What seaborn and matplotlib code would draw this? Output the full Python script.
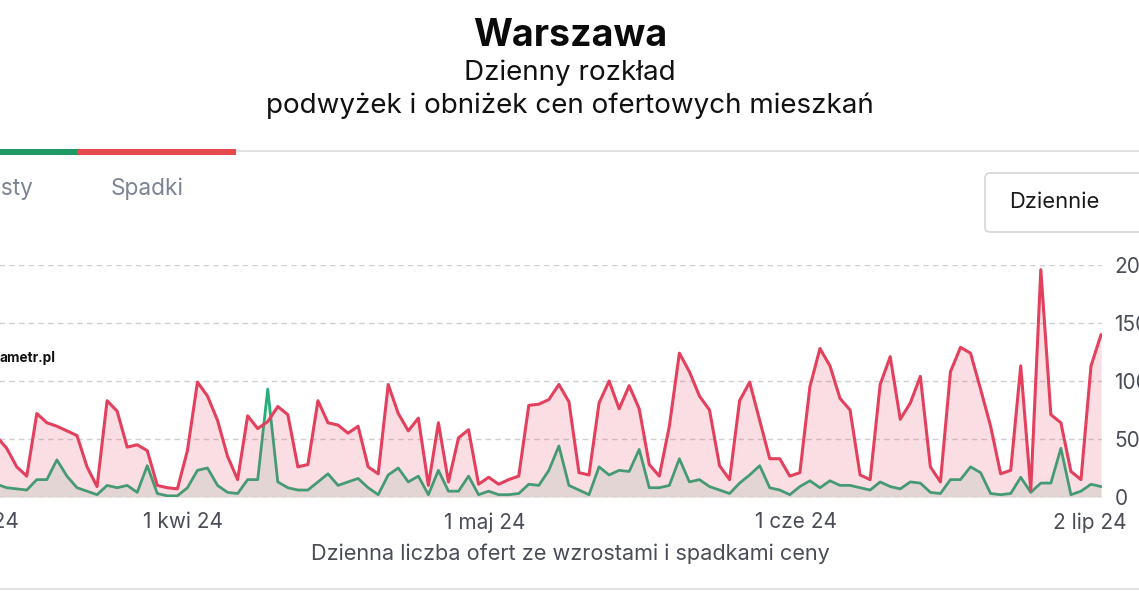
import numpy as np
import pandas as pd
import matplotlib
matplotlib.use("Agg")
import matplotlib.pyplot as plt
import matplotlib.dates as mdates
import matplotlib.transforms as mtransforms
from matplotlib.patches import FancyBboxPatch, Rectangle
import seaborn as sns

# ---------------- data ----------------
start_date = "2024-03-14"
spadki = [52, 42, 26, 18, 72, 64, 61, 57, 53, 26, 9, 83, 74, 43, 45, 40, 10, 8, 7, 40,
          99, 87, 66, 35, 15, 70, 59, 65, 78, 71, 26, 28, 83, 64, 62, 55, 61, 26, 20, 97,
          72, 57, 68, 10, 64, 13, 51, 58, 11, 17, 11, 15, 18, 79, 80, 84, 97, 82, 21, 19,
          81, 100, 76, 96, 76, 28, 18, 61, 124, 108, 87, 75, 27, 15, 83, 99, 66, 33, 33, 18,
          21, 95, 128, 113, 85, 75, 19, 15, 97, 121, 67, 81, 104, 26, 13, 108, 129, 124, 93, 61,
          20, 23, 113, 6, 196, 71, 64, 22, 15, 113, 140]
wzrosty = [11, 8, 7, 6, 15, 15, 32, 18, 8, 5, 2, 10, 8, 10, 4, 27, 3, 1, 1, 8,
           23, 25, 10, 4, 3, 15, 15, 93, 13, 8, 6, 6, 13, 20, 10, 13, 16, 8, 2, 19,
           25, 13, 18, 2, 23, 5, 5, 18, 2, 5, 2, 2, 3, 11, 10, 23, 44, 10, 6, 2,
           26, 19, 23, 22, 41, 8, 8, 10, 33, 13, 15, 9, 6, 3, 12, 19, 27, 8, 6, 2,
           9, 14, 8, 14, 10, 10, 8, 6, 13, 9, 7, 13, 12, 4, 3, 15, 15, 26, 21, 3,
           2, 3, 17, 4, 12, 12, 42, 2, 5, 11, 9]
tick_dates = ["2024-03-11", "2024-04-01", "2024-05-01", "2024-06-01", "2024-07-02"]
tick_labels = ["11 mar 24", "1 kwi 24", "1 maj 24", "1 cze 24", "2 lip 24"]
y_ticks = [0, 50, 100, 150, 200]

dates = pd.date_range(start_date, periods=len(spadki), freq="D")
df = pd.DataFrame({"date": dates, "spadki": spadki, "wzrosty": wzrosty})

# ---------------- style ----------------
sns.set_theme(style="white")
plt.rcParams["font.family"] = ["Inter", "DejaVu Sans"]

W, H = 1139, 600
fig = plt.figure(figsize=(W / 100, H / 100), dpi=100)
fig.patch.set_facecolor("white")

RED = "#e3405e"
GREEN = "#27ad78"

# plot area in pixels
L_px, R_px, T_px, B_px = -120, 1102, 265, 497
ax = fig.add_axes([L_px / W, (H - B_px) / H, (R_px - L_px) / W, (B_px - T_px) / H])
ax.set_facecolor("none")

# x mapping (first full point at px 6.7, 10.04 px/day)
ref = mdates.date2num(pd.Timestamp(start_date)) + 1
px0, pxd = 6.7, 10.04
ax.set_xlim(ref + (L_px - px0) / pxd, ref + (R_px - px0) / pxd)
ax.set_ylim(0, 200)

for v in y_ticks:
    ax.axhline(v, color="#cfcfcf", lw=1.0, ls=(0, (4, 3)), zorder=0)

xnum = mdates.date2num(df["date"])
ax.fill_between(xnum, 0, df["wzrosty"], color=GREEN, alpha=0.13, lw=0, zorder=1)
sns.lineplot(data=df, x="date", y="wzrosty", ax=ax, color=GREEN, lw=2.0, zorder=2)
ax.fill_between(xnum, 0, df["spadki"], color=RED, alpha=0.17, lw=0, zorder=3)
sns.lineplot(data=df, x="date", y="spadki", ax=ax, color=RED, lw=2.2, zorder=4)

ax.set_xticks(mdates.date2num(pd.to_datetime(tick_dates)))
ax.set_xticklabels(tick_labels)
ax.set_yticks(y_ticks)
ax.set_yticklabels([str(v) for v in y_ticks])
ax.yaxis.tick_right()
ax.tick_params(axis="x", length=0, pad=11, labelsize=15, labelcolor="#4a4d57")
ax.tick_params(axis="y", length=0, pad=9, labelsize=15, labelcolor="#4a4d57")
ax.set_xlabel("")
ax.set_ylabel("")
for s in ax.spines.values():
    s.set_visible(False)

# label placement like the web chart: small nudge, last label pulled inside
xlabels = ax.get_xticklabels()
for i, lab in enumerate(xlabels):
    dx = 6 if i < len(xlabels) - 1 else -11
    lab.set_transform(lab.get_transform() +
                      mtransforms.ScaledTranslation(dx / 100, 0, fig.dpi_scale_trans))

# ---------------- overlay in pixel coordinates ----------------
ov = fig.add_axes([0, 0, 1, 1], zorder=10)
ov.set_xlim(0, W)
ov.set_ylim(H, 0)
ov.axis("off")
ov.patch.set_alpha(0)

ov.text(570, 36, "Warszawa", ha="center", va="center", fontsize=27,
        fontweight="bold", color="#0a0a0a")
ov.text(570, 73, "Dzienny rozkład", ha="center", va="center", fontsize=20, color="#111111")
ov.text(570, 106, "podwyżek i obniżek cen ofertowych mieszkań", ha="center",
        va="center", fontsize=20, color="#111111")

# tab header
ov.plot([0, W], [151, 151], color="#e2e2e2", lw=1.5, solid_capstyle="butt", zorder=1)
ov.add_patch(Rectangle((0, 149), 78, 6, facecolor="#1f9a67", lw=0, zorder=2))
ov.add_patch(Rectangle((78, 149), 158, 6, facecolor="#e5494d", lw=0, zorder=2))
ov.text(33, 189, "Wzrosty", ha="right", va="center", fontsize=16.3, color="#7b8494")
ov.text(111, 189, "Spadki", ha="left", va="center", fontsize=16.3, color="#7b8494")

# dropdown
ov.add_patch(FancyBboxPatch((985, 173), 200, 59, boxstyle="round,pad=0,rounding_size=5",
                            facecolor="white", edgecolor="#d6d6d6", lw=1.2))
ov.text(1009, 202, "Dziennie", ha="left", va="center", fontsize=15.8, color="#1a1a1a")

# watermark
ov.text(0, 358, "ametr.pl", ha="left", va="center", fontsize=9.8,
        fontweight="bold", color="#111111")

# axis title
ov.text(570, 554, "Dzienna liczba ofert ze wzrostami i spadkami ceny", ha="center",
        va="center", fontsize=15.6, color="#4a4d57")

# bottom line
ov.plot([0, W], [589, 589], color="#e2e2e2", lw=1.5)

fig.savefig("out.png", dpi=100)
